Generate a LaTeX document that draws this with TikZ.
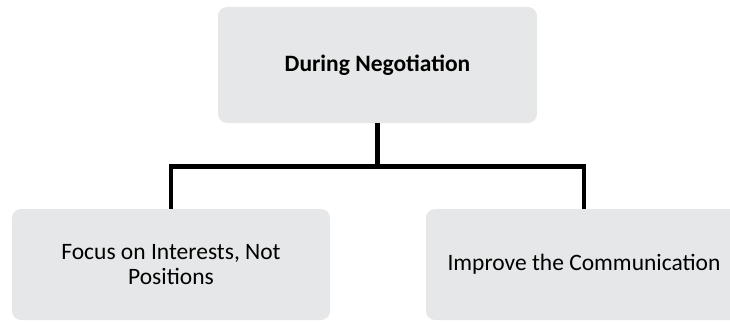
\documentclass[tikz,border=0pt]{standalone}
\usepackage{fontspec}
\setmainfont{Carlito}
\definecolor{boxgray}{HTML}{E6E7E8}
\tikzset{
  card/.style={fill=boxgray, draw=none, rounded corners=9pt, align=center,
    inner sep=0pt, font=\fontsize{23.5}{24.5}\selectfont},
  conn/.style={draw=black, line width=4.2pt, line join=miter}
}
\begin{document}
\begin{tikzpicture}[x=1pt,y=-1pt]
  \useasboundingbox (0,0) rectangle (730,321);
  % parent box
  \node[card, minimum width=319pt, minimum height=116pt, font=\fontsize{23.5}{24.5}\selectfont\bfseries]
    (top) at (377.5,65) {During Negotiation};
  % child boxes
  \node[card, minimum width=318pt, minimum height=111pt]
    (left) at (171,264.5) {Focus on Interests, Not\\Positions};
  \node[card, minimum width=316pt, minimum height=111pt]
    (right) at (584,264.5) {Improve the Communication};
  % bracket connector
  \coordinate (bus) at (377.5,166.5);
  \draw[conn] (top.south) -- (bus);
  \draw[conn] (left.north) |- (bus) -| (right.north);
\end{tikzpicture}
\end{document}
